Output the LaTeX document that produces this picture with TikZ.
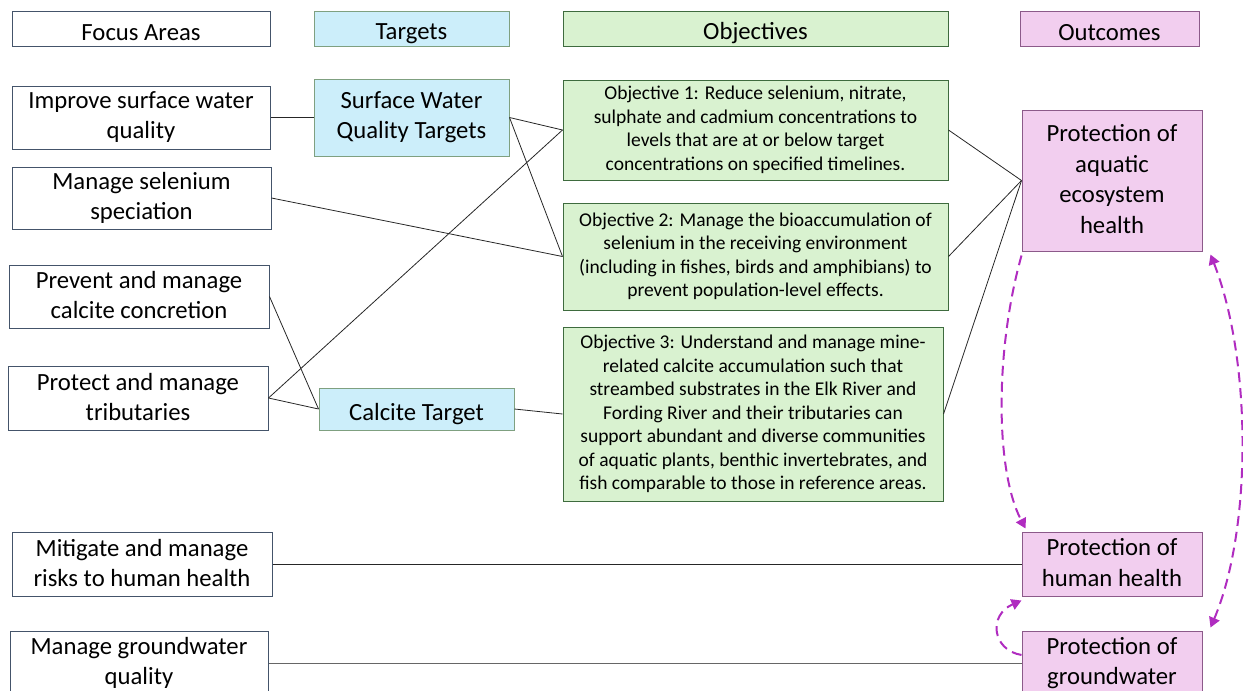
\documentclass[tikz,border=0pt]{standalone}
\usepackage{fontspec}
\setmainfont{Carlito}
\usetikzlibrary{arrows.meta,calc}
\definecolor{wbord}{HTML}{44546A}
\definecolor{bfill}{HTML}{CCEEFA}
\definecolor{bbord}{HTML}{7FA080}
\definecolor{gfill}{HTML}{D9F2D0}
\definecolor{gbord}{HTML}{3E6B3E}
\definecolor{pfill}{HTML}{F2CEEF}
\definecolor{pbord}{HTML}{8C5A8A}
\definecolor{mag}{HTML}{B02CC0}
\newcommand{\mystrut}{\rule[-0.1\baselineskip]{0pt}{\baselineskip}}
\begin{document}
\begin{tikzpicture}[x=1pt,y=-1pt,
  base/.style={draw, line width=1pt, inner sep=0pt, align=center, anchor=center,
    execute at begin node=\mystrut, execute at end node=\mystrut},
  wbox/.style={base, draw=wbord, fill=white, font=\fontsize{24.7}{30}\selectfont},
  bbox/.style={base, draw=bbord, fill=bfill, font=\fontsize{24.7}{30}\selectfont},
  gbox/.style={base, draw=gbord, fill=gfill, font=\fontsize{19.5}{23.5}\selectfont},
  ghead/.style={base, draw=gbord, fill=gfill, font=\fontsize{24.7}{30}\selectfont},
  pbox/.style={base, draw=pbord, fill=pfill, font=\fontsize{24.7}{30.5}\selectfont},
  sz/.style 2 args={minimum width=#1pt, minimum height=#2pt},
  conn/.style={draw=black!85, line width=0.8pt},
  dashar/.style={draw=mag, line width=2pt, dash pattern=on 10pt off 6pt, -{Triangle[length=10pt,width=11pt]}}
]
\useasboundingbox (0,0) rectangle (1243,691);
% headers
\node[wbox, sz={258}{35}] (hfa) at (141,28.5) {Focus Areas};
\node[bbox, sz={195}{35}] (ht) at (411.5,28.5) {Targets};
\node[ghead, sz={385}{35}] (ho) at (755.5,28.5) {Objectives};
\node[pbox, sz={179}{35}] (hout) at (1109.5,28.5) {Outcomes};
% focus areas
\node[wbox, sz={258}{63}] (fa1) at (141,117.5) {Improve surface water\\quality};
\node[wbox, sz={259}{62}] (fa2) at (141.5,198) {Manage selenium\\speciation};
\node[wbox, sz={260}{63}] (fa3) at (139,296.5) {Prevent and manage\\calcite concretion};
\node[wbox, sz={260}{64}] (fa4) at (138,398) {Protect and manage\\tributaries};
\node[wbox, sz={260}{64}] (fa5) at (142,564) {Mitigate and manage\\risks to human health};
\node[wbox, sz={258}{64}] (fa6) at (139,663) {Manage groundwater\\quality};
% targets
\node[bbox, sz={195}{77}] (t1) at (411.5,117.5) {Surface Water\\Quality Targets};
\node[bbox, sz={195}{42}] (t2) at (416.5,409) {Calcite Target};
% objectives
\node[gbox, sz={385}{100}] (o1) at (755.5,130) {Objective 1: Reduce selenium, nitrate,\\sulphate and cadmium concentrations to\\levels that are at or below target\\concentrations on specified timelines.};
\node[gbox, sz={385}{107}] (o2) at (755.5,256.5) {Objective 2: Manage the bioaccumulation of\\selenium in the receiving environment\\(including in fishes, birds and amphibians) to\\prevent population-level effects.};
\node[gbox, sz={380}{174}] (o3) at (753,414) {Objective 3: Understand and manage mine-\\related calcite accumulation such that\\streambed substrates in the Elk River and\\Fording River and their tributaries can\\support abundant and diverse communities\\of aquatic plants, benthic invertebrates, and\\fish comparable to those in reference areas.};
% outcomes
\node[pbox, sz={180}{141}] (out1) at (1112,180.5) {Protection of\\aquatic\\ecosystem\\health};
\node[pbox, sz={180}{64}] (out2) at (1112,564) {Protection of\\human health};
\node[pbox, sz={180}{64}] (out3) at (1112,663) {Protection of\\groundwater};
% connectors
\draw[conn] (fa1.east) -- (t1.west);
\draw[conn] (t1.east) -- (o1.west);
\draw[conn] (t1.east) -- (o2.west);
\draw[conn] (fa2.east) -- (o2.west);
\draw[conn] (fa4.east) -- (o1.west);
\draw[conn] (fa4.east) -- (t2.west);
\draw[conn] (fa3.east) -- (t2.west);
\draw[conn] (t2.east) -- (o3.west);
\draw[conn] (o1.east) -- (out1.west);
\draw[conn] (o2.east) -- (out1.west);
\draw[conn] (o3.east) -- (out1.west);
\draw[conn] (fa5.east) -- (out2.west);
\draw[conn, draw=black!60] (fa6.east) -- (out3.west);
% dashed outcome arrows
\draw[dashar] ($(out1.south west)+(0,4)$) .. controls (995,350) and (995,470) .. ($(out2.north west)+(4,-3)$);
\draw[dashar, {Triangle[length=10pt,width=11pt]}-{Triangle[length=10pt,width=11pt]}] ($(out1.south east)+(8,3)$) .. controls (1252,360) and (1252,530) .. ($(out3.north east)+(8,-3)$);
\draw[dashar] ($(out3.west)+(0,-8)$) .. controls (992,650) and (988,615) .. ($(out2.south west)+(0,4)$);
\end{tikzpicture}
\end{document}
